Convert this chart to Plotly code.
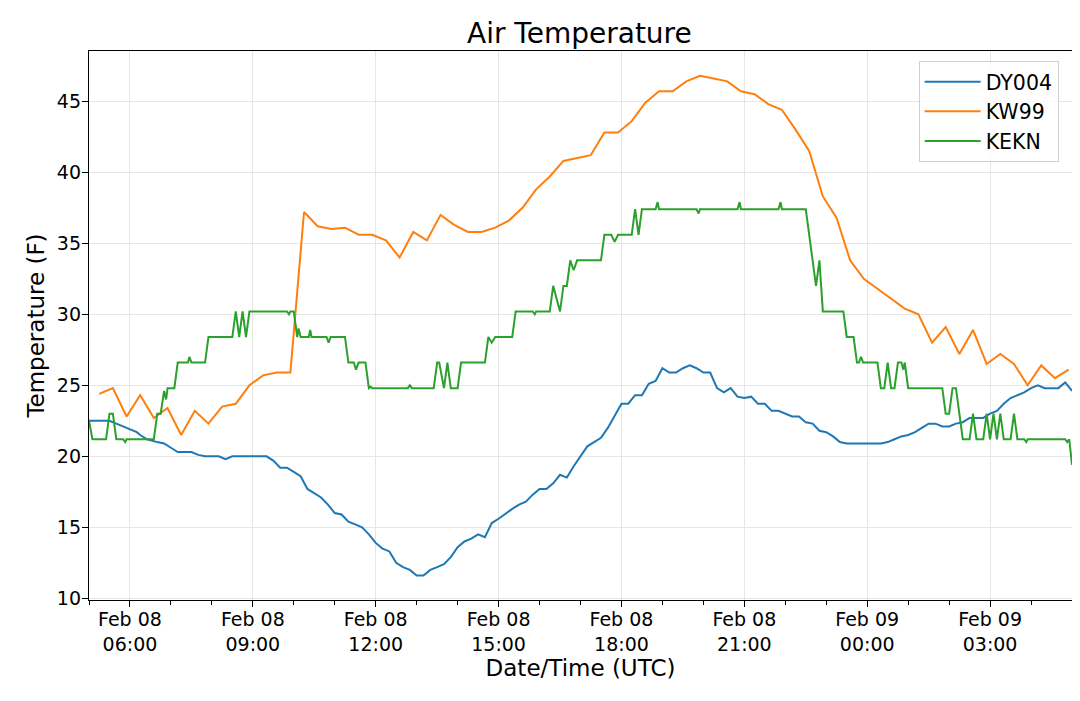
import pandas as pd
import plotly.graph_objects as go

# DY004: roughly 10-minute readings (day hh:mm, Feb 2020)
dy004_time = [
    "08 05:00", "08 05:30", "08 05:40", "08 05:50", "08 06:00", "08 06:10", "08 06:15", "08 06:25",
    "08 06:40", "08 06:50", "08 07:00", "08 07:10", "08 07:30", "08 07:40", "08 07:50", "08 08:10",
    "08 08:20", "08 08:30", "08 09:20", "08 09:30", "08 09:40", "08 09:50", "08 10:00", "08 10:10",
    "08 10:20", "08 10:40", "08 10:50", "08 11:00", "08 11:10", "08 11:20", "08 11:30", "08 11:40",
    "08 11:50", "08 12:00", "08 12:10", "08 12:20", "08 12:30", "08 12:40", "08 12:50", "08 13:00",
    "08 13:10", "08 13:20", "08 13:30", "08 13:40", "08 13:50", "08 14:00", "08 14:10", "08 14:20",
    "08 14:30", "08 14:40", "08 14:50", "08 15:00", "08 15:20", "08 15:30", "08 15:40", "08 15:50",
    "08 16:00", "08 16:10", "08 16:20", "08 16:30", "08 16:40", "08 16:50", "08 17:10", "08 17:20",
    "08 17:30", "08 17:40", "08 18:00", "08 18:10", "08 18:20", "08 18:30", "08 18:40", "08 18:50",
    "08 19:00", "08 19:10", "08 19:20", "08 19:30", "08 19:40", "08 19:50", "08 20:00", "08 20:10",
    "08 20:20", "08 20:30", "08 20:40", "08 20:50", "08 21:00", "08 21:10", "08 21:20", "08 21:30",
    "08 21:40", "08 21:50", "08 22:10", "08 22:20", "08 22:30", "08 22:40", "08 22:50", "08 23:00",
    "08 23:10", "08 23:20", "08 23:30", "09 00:20", "09 00:30", "09 00:40", "09 00:50", "09 01:00",
    "09 01:10", "09 01:20", "09 01:30", "09 01:40", "09 01:50", "09 02:00", "09 02:10", "09 02:20",
    "09 02:30", "09 02:50", "09 03:00", "09 03:10", "09 03:20", "09 03:30", "09 03:50", "09 04:00",
    "09 04:10", "09 04:20", "09 04:40", "09 04:50", "09 05:00",
]
dy004_temp = [
    22.5, 22.5, 22.3, 22.1, 21.9, 21.7, 21.5, 21.2,
    21.0, 20.9, 20.6, 20.3, 20.3, 20.1, 20.0, 20.0,
    19.8, 20.0, 20.0, 19.7, 19.2, 19.2, 18.9, 18.6,
    17.7, 17.1, 16.6, 16.0, 15.9, 15.4, 15.2, 15.0,
    14.5, 13.9, 13.5, 13.3, 12.5, 12.2, 12.0, 11.6,
    11.6, 12.0, 12.2, 12.4, 12.9, 13.6, 14.0, 14.2,
    14.5, 14.3, 15.3, 15.6, 16.3, 16.6, 16.8, 17.3,
    17.7, 17.7, 18.1, 18.7, 18.5, 19.3, 20.7, 21.0,
    21.3, 22.0, 23.7, 23.7, 24.3, 24.3, 25.1, 25.3,
    26.2, 25.9, 25.9, 26.2, 26.4, 26.2, 25.9, 25.9,
    24.8, 24.5, 24.8, 24.2, 24.1, 24.2, 23.7, 23.7,
    23.2, 23.2, 22.8, 22.8, 22.4, 22.3, 21.8, 21.7,
    21.4, 21.0, 20.9, 20.9, 21.0, 21.2, 21.4, 21.5,
    21.7, 22.0, 22.3, 22.3, 22.1, 22.1, 22.3, 22.4,
    22.7, 22.7, 23.0, 23.2, 23.7, 24.1, 24.5, 24.8,
    25.0, 24.8, 24.8, 25.2, 24.6,
]

# KW99: 20-minute reports from 05:15 Feb 08 to 04:55 Feb 09
kw99_start = "2020-02-08 05:15"
kw99_temp = [
    24.4, 24.8, 22.8, 24.3, 22.7, 23.4, 21.5, 23.2, 22.3, 23.5,
    23.7, 25.0, 25.7, 25.9, 25.9, 37.2, 36.2, 36.0, 36.1, 35.6,
    35.6, 35.2, 34.0, 35.8, 35.2, 37.0, 36.3, 35.8, 35.8, 36.1,
    36.6, 37.5, 38.8, 39.7, 40.8, 41.0, 41.2, 42.8, 42.8, 43.6,
    44.9, 45.7, 45.7, 46.4, 46.8, 46.6, 46.4, 45.7, 45.5, 44.8,
    44.4, 43.0, 41.5, 38.3, 36.8, 33.8, 32.5, 31.8, 31.1, 30.4,
    30.0, 28.0, 29.1, 27.2, 28.9, 26.5, 27.2, 26.5, 25.0, 26.4,
    25.5, 26.1,
]

# KEKN: readings where the trace changes (5-minute data plus hourly obs)
kekn_time = [
    "08 05:00", "08 05:05", "08 05:25", "08 05:30", "08 05:35", "08 05:40", "08 05:50", "08 05:53",
    "08 05:55", "08 06:35", "08 06:40", "08 06:45", "08 06:50", "08 06:53", "08 06:55", "08 07:05",
    "08 07:10", "08 07:25", "08 07:27", "08 07:30", "08 07:50", "08 07:55", "08 08:30", "08 08:35",
    "08 08:40", "08 08:45", "08 08:50", "08 08:55", "08 09:50", "08 09:53", "08 09:55", "08 10:00",
    "08 10:05", "08 10:07", "08 10:10", "08 10:22", "08 10:24", "08 10:26", "08 10:48", "08 10:51",
    "08 10:54", "08 11:15", "08 11:20", "08 11:28", "08 11:31", "08 11:35", "08 11:45", "08 11:50",
    "08 11:53", "08 11:55", "08 12:47", "08 12:50", "08 12:53", "08 13:25", "08 13:30", "08 13:33",
    "08 13:40", "08 13:45", "08 13:50", "08 14:00", "08 14:05", "08 14:40", "08 14:45", "08 14:50",
    "08 14:55", "08 15:20", "08 15:25", "08 15:50", "08 15:53", "08 15:55", "08 16:15", "08 16:20",
    "08 16:30", "08 16:35", "08 16:40", "08 16:45", "08 16:50", "08 16:55", "08 17:30", "08 17:35",
    "08 17:45", "08 17:50", "08 17:55", "08 18:15", "08 18:20", "08 18:25", "08 18:30", "08 18:50",
    "08 18:53", "08 18:55", "08 19:50", "08 19:53", "08 19:55", "08 20:50", "08 20:53", "08 20:55",
    "08 21:50", "08 21:53", "08 21:55", "08 22:30", "08 22:45", "08 22:50", "08 22:55", "08 23:25",
    "08 23:30", "08 23:40", "08 23:45", "08 23:48", "08 23:51", "08 23:54", "09 00:15", "09 00:20",
    "09 00:25", "09 00:30", "09 00:35", "09 00:40", "09 00:45", "09 00:50", "09 00:53", "09 00:55",
    "09 01:00", "09 01:50", "09 01:55", "09 02:00", "09 02:05", "09 02:10", "09 02:20", "09 02:30",
    "09 02:35", "09 02:40", "09 02:50", "09 02:55", "09 03:00", "09 03:05", "09 03:10", "09 03:15",
    "09 03:20", "09 03:30", "09 03:35", "09 03:40", "09 03:50", "09 03:53", "09 03:55", "09 04:50",
    "09 04:53", "09 04:56", "09 05:00",
]
kekn_temp = [
    22.5, 21.2, 21.2, 23.0, 23.0, 21.2, 21.2, 21.0,
    21.2, 21.2, 23.0, 23.0, 24.6, 24.0, 24.8, 24.8,
    26.6, 26.6, 27.0, 26.6, 26.6, 28.4, 28.4, 30.2,
    28.4, 30.2, 28.4, 30.2, 30.2, 30.0, 30.2, 30.2,
    28.4, 29.0, 28.4, 28.4, 28.9, 28.4, 28.4, 28.0,
    28.4, 28.4, 26.6, 26.6, 26.1, 26.6, 26.6, 24.8,
    24.9, 24.8, 24.8, 25.0, 24.8, 24.8, 26.6, 26.6,
    24.8, 26.6, 24.8, 24.8, 26.6, 26.6, 28.4, 28.0,
    28.4, 28.4, 30.2, 30.2, 30.0, 30.2, 30.2, 32.0,
    30.2, 32.0, 32.0, 33.8, 33.1, 33.8, 33.8, 35.6,
    35.6, 35.1, 35.6, 35.6, 37.4, 35.6, 37.4, 37.4,
    37.9, 37.4, 37.4, 37.1, 37.4, 37.4, 37.9, 37.4,
    37.4, 37.9, 37.4, 37.4, 32.0, 33.8, 30.2, 30.2,
    28.4, 28.4, 26.6, 26.6, 27.0, 26.6, 26.6, 24.8,
    24.8, 26.6, 24.8, 24.8, 26.6, 26.6, 26.1, 26.6,
    24.8, 24.8, 23.0, 23.0, 24.8, 24.8, 21.2, 21.2,
    23.0, 21.2, 21.2, 23.0, 21.2, 23.0, 21.2, 23.0,
    21.2, 21.2, 23.0, 21.2, 21.2, 21.0, 21.2, 21.2,
    21.0, 21.2, 19.4,
]

tick_times = ["08 06:00", "08 09:00", "08 12:00", "08 15:00", "08 18:00", "08 21:00", "09 00:00", "09 03:00"]
tick_text = ["Feb 08<br>06:00", "Feb 08<br>09:00", "Feb 08<br>12:00", "Feb 08<br>15:00",
             "Feb 08<br>18:00", "Feb 08<br>21:00", "Feb 09<br>00:00", "Feb 09<br>03:00"]


def to_dt(values):
    return ["2020-02-" + v for v in values]


kw99_time = pd.date_range(kw99_start, periods=len(kw99_temp), freq="20min").strftime("%Y-%m-%d %H:%M").tolist()

font = "DejaVu Sans, Verdana, sans-serif"

fig = go.Figure()
fig.add_trace(go.Scatter(x=to_dt(dy004_time), y=dy004_temp, mode="lines", name="DY004",
                         line=dict(color="#1f77b4", width=2)))
fig.add_trace(go.Scatter(x=kw99_time, y=kw99_temp, mode="lines", name="KW99",
                         line=dict(color="#ff7f0e", width=2)))
fig.add_trace(go.Scatter(x=to_dt(kekn_time), y=kekn_temp, mode="lines", name="KEKN",
                         line=dict(color="#2ca02c", width=2)))

# the page body adds an 8px offset, so the figure is 8px smaller on each side
fig.update_layout(
    width=1072, height=693,
    margin=dict(l=81, r=8, t=43, b=101, autoexpand=False),
    paper_bgcolor="white", plot_bgcolor="white",
    font=dict(family=font, size=19, color="black"),
    title=dict(text="Air Temperature", x=0.533, xanchor="center", y=0.964, yanchor="middle",
               yref="container", font=dict(size=28)),
    legend=dict(x=0.844, y=0.982, xanchor="left", yanchor="top",
                bgcolor="rgba(255,255,255,0.8)", bordercolor="#d0d0d0", borderwidth=1,
                font=dict(size=20.5), itemwidth=56),
    showlegend=True,
)
fig.update_xaxes(
    range=to_dt(["08 05:00", "09 05:00"]), autorange=False, automargin=False,
    tickvals=to_dt(tick_times), ticktext=tick_text, ticklabelstandoff=-4,
    ticks="outside", ticklen=6, tickcolor="black", tickwidth=1.2,
    minor=dict(dtick=3600000, ticks="outside", ticklen=4, tickcolor="black", showgrid=False),
    showline=True, linecolor="black", linewidth=1.3, mirror=True,
    showgrid=True, gridcolor="#e6e6e6", gridwidth=1.2,
    title=dict(text="Date/Time (UTC)", font=dict(size=23), standoff=4),
    zeroline=False,
)
fig.update_yaxes(
    range=[9.88, 48.54], autorange=False, automargin=False,
    tickvals=[10, 15, 20, 25, 30, 35, 40, 45], ticklabelstandoff=-3,
    ticks="outside", ticklen=6, tickcolor="black", tickwidth=1.2,
    showline=True, linecolor="black", linewidth=1.3, mirror=True,
    showgrid=True, gridcolor="#e6e6e6", gridwidth=1.2,
    title=dict(text="Temperature (F)", font=dict(size=23), standoff=5),
    zeroline=False,
)

fig.write_html("out.html")
